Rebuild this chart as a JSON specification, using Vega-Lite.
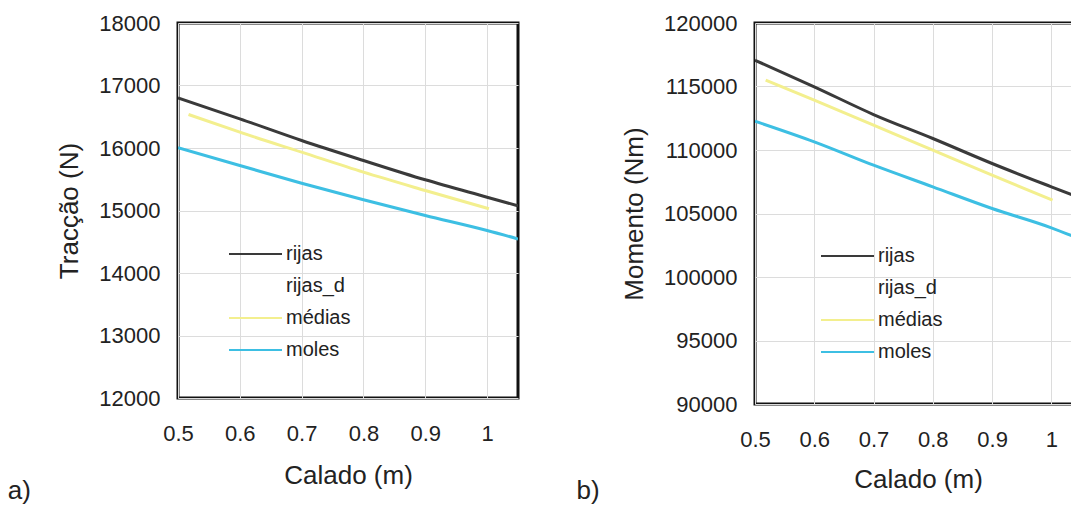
{
  "$schema": "https://vega.github.io/schema/vega-lite/v6.json",
  "background": "white",
  "padding": {"left": 6, "top": 10, "right": 0, "bottom": 0},
  "spacing": 55,
  "datasets": {
    "a": [
      {"calado": 0.5, "valor": 16803, "serie": "rijas"},
      {"calado": 0.6, "valor": 16467, "serie": "rijas"},
      {"calado": 0.7, "valor": 16120, "serie": "rijas"},
      {"calado": 0.8, "valor": 15800, "serie": "rijas"},
      {"calado": 0.9, "valor": 15491, "serie": "rijas"},
      {"calado": 1.0, "valor": 15213, "serie": "rijas"},
      {"calado": 1.05, "valor": 15075, "serie": "rijas"},
      {"calado": 0.517, "valor": 16536, "serie": "médias"},
      {"calado": 0.6, "valor": 16253, "serie": "médias"},
      {"calado": 0.7, "valor": 15933, "serie": "médias"},
      {"calado": 0.8, "valor": 15613, "serie": "médias"},
      {"calado": 0.9, "valor": 15320, "serie": "médias"},
      {"calado": 1.003, "valor": 15027, "serie": "médias"},
      {"calado": 0.5, "valor": 16003, "serie": "moles"},
      {"calado": 0.6, "valor": 15720, "serie": "moles"},
      {"calado": 0.7, "valor": 15437, "serie": "moles"},
      {"calado": 0.8, "valor": 15171, "serie": "moles"},
      {"calado": 0.9, "valor": 14920, "serie": "moles"},
      {"calado": 1.0, "valor": 14680, "serie": "moles"},
      {"calado": 1.05, "valor": 14545, "serie": "moles"}
    ],
    "b": [
      {"calado": 0.5, "valor": 117070, "serie": "rijas"},
      {"calado": 0.6, "valor": 114976, "serie": "rijas"},
      {"calado": 0.7, "valor": 112795, "serie": "rijas"},
      {"calado": 0.8, "valor": 110906, "serie": "rijas"},
      {"calado": 0.9, "valor": 108937, "serie": "rijas"},
      {"calado": 1.0, "valor": 107100, "serie": "rijas"},
      {"calado": 1.05, "valor": 106200, "serie": "rijas"},
      {"calado": 0.518, "valor": 115496, "serie": "médias"},
      {"calado": 0.6, "valor": 113921, "serie": "médias"},
      {"calado": 0.7, "valor": 111953, "serie": "médias"},
      {"calado": 0.8, "valor": 109984, "serie": "médias"},
      {"calado": 0.9, "valor": 108016, "serie": "médias"},
      {"calado": 1.002, "valor": 106047, "serie": "médias"},
      {"calado": 0.5, "valor": 112268, "serie": "moles"},
      {"calado": 0.6, "valor": 110646, "serie": "moles"},
      {"calado": 0.7, "valor": 108803, "serie": "moles"},
      {"calado": 0.8, "valor": 107100, "serie": "moles"},
      {"calado": 0.9, "valor": 105394, "serie": "moles"},
      {"calado": 1.0, "valor": 103874, "serie": "moles"},
      {"calado": 1.05, "valor": 102950, "serie": "moles"}
    ]
  },
  "resolve": {"scale": {"color": "independent"}, "legend": {"color": "independent"}},
  "hconcat": [
    {
      "data": {"name": "a"},
      "width": 340,
      "height": 375,
      "title": {"text": "a)", "orient": "bottom", "anchor": "start", "frame": "bounds", "dx": -49, "dy": -14, "offset": 4},
      "mark": {"type": "line", "strokeWidth": 3, "interpolate": "monotone", "clip": true},
      "encoding": {
        "x": {
          "field": "calado", "type": "quantitative", "title": "Calado (m)",
          "scale": {"domain": [0.5, 1.05], "nice": false, "zero": false},
          "axis": {"values": [0.5, 0.6, 0.7, 0.8, 0.9, 1.0], "format": ".1~f"}
        },
        "y": {
          "field": "valor", "type": "quantitative", "title": "Tracção (N)",
          "scale": {"domain": [12000, 18000], "nice": false, "zero": false},
          "axis": {"values": [12000, 13000, 14000, 15000, 16000, 17000, 18000], "format": "d"}
        },
        "color": {
          "field": "serie", "type": "nominal",
          "scale": {"domain": ["rijas", "rijas_d", "médias", "moles"], "range": ["#3a3a3a", "transparent", "#f3ef8e", "#3dbfe3"]},
          "legend": {"orient": "none", "legendX": 86, "legendY": 221}
        }
      }
    },
    {
      "data": {"name": "b"},
      "width": 326,
      "height": 381,
      "title": {"text": "b)", "orient": "bottom", "anchor": "start", "frame": "bounds", "dx": -45, "dy": -18, "offset": 4},
      "mark": {"type": "line", "strokeWidth": 3, "interpolate": "monotone", "clip": true},
      "encoding": {
        "x": {
          "field": "calado", "type": "quantitative", "title": "Calado (m)",
          "scale": {"domain": [0.5, 1.05], "nice": false, "zero": false},
          "axis": {"values": [0.5, 0.6, 0.7, 0.8, 0.9, 1.0], "format": ".1~f", "titlePadding": 16}
        },
        "y": {
          "field": "valor", "type": "quantitative", "title": "Momento (Nm)",
          "scale": {"domain": [90000, 120000], "nice": false, "zero": false},
          "axis": {"values": [90000, 95000, 100000, 105000, 110000, 115000, 120000], "format": "d"}
        },
        "color": {
          "field": "serie", "type": "nominal",
          "scale": {"domain": ["rijas", "rijas_d", "médias", "moles"], "range": ["#3a3a3a", "transparent", "#f3ef8e", "#3dbfe3"]},
          "legend": {"orient": "none", "legendX": 101, "legendY": 223}
        }
      }
    }
  ],
  "config": {
    "font": "Liberation Sans",
    "view": {"stroke": "#111111", "strokeWidth": 3},
    "axis": {
      "grid": true, "gridColor": "#dcdcdc", "gridWidth": 1,
      "domain": false, "ticks": false,
      "labelFont": "Liberation Sans", "labelFontSize": 22, "labelColor": "#222222",
      "labelFlush": false, "labelOverlap": false, "labelBound": false,
      "titleFont": "Liberation Sans", "titleFontSize": 26, "titleFontWeight": "normal", "titleColor": "#222222"
    },
    "axisX": {"labelPadding": 25, "titlePadding": 18},
    "axisY": {"labelPadding": 18, "titlePadding": 16},
    "legend": {
      "title": null,
      "symbolType": "M-9,0H1.6",
      "symbolSize": 100,
      "symbolStrokeWidth": 2,
      "labelFont": "Liberation Sans", "labelFontSize": 20, "labelColor": "#222222",
      "labelOffset": 2, "rowPadding": 12, "padding": 0
    },
    "title": {"font": "Liberation Sans", "fontSize": 26, "fontWeight": "normal", "color": "#222222"}
  }
}
